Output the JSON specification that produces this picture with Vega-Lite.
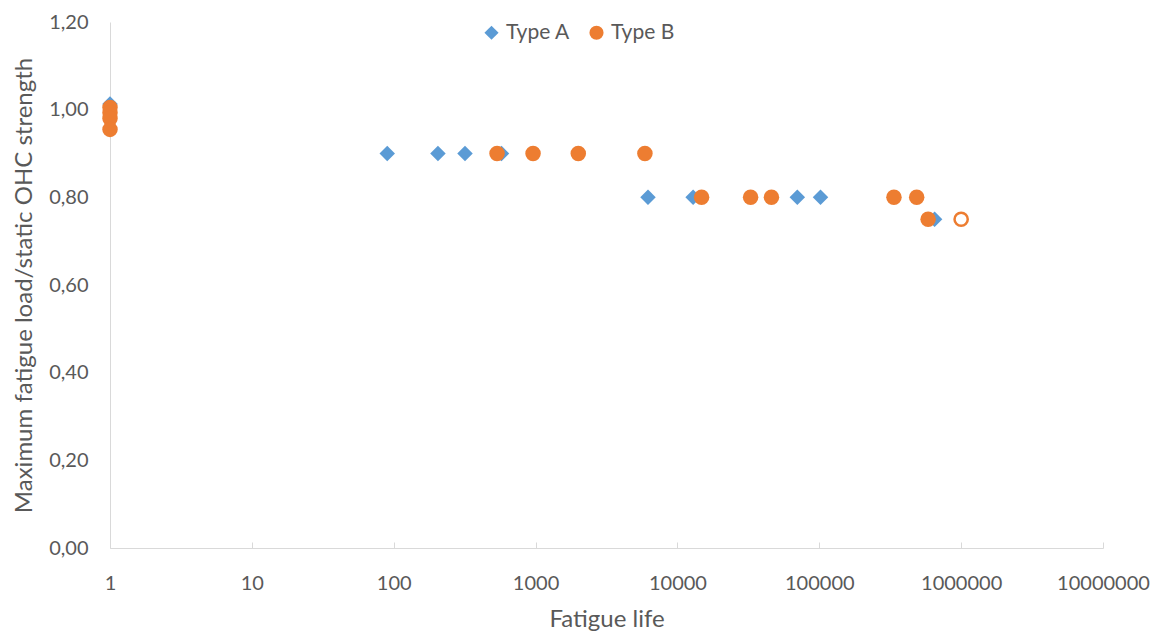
{
  "$schema": "https://vega.github.io/schema/vega-lite/v6.json",
  "width": 993,
  "height": 526,
  "autosize": "none",
  "padding": {"left": 110, "top": 22, "right": 56, "bottom": 87},
  "background": "white",
  "config": {
    "font": "Lato",
    "view": {"stroke": null},
    "axis": {"grid": false, "domainColor": "#d9d9d9", "labelColor": "#595959", "titleColor": "#595959", "labelFont": "Lato", "titleFont": "Lato", "labelFontSize": 20, "titleFontSize": 24, "titleFontWeight": "normal"}
  },
  "data": {
    "values": [
      {"life": 1, "ratio": 1.013, "type": "Type A", "runout": false},
      {"life": 90, "ratio": 0.9, "type": "Type A", "runout": false},
      {"life": 205, "ratio": 0.9, "type": "Type A", "runout": false},
      {"life": 318, "ratio": 0.9, "type": "Type A", "runout": false},
      {"life": 575, "ratio": 0.9, "type": "Type A", "runout": false},
      {"life": 6200, "ratio": 0.8, "type": "Type A", "runout": false},
      {"life": 12900, "ratio": 0.8, "type": "Type A", "runout": false},
      {"life": 70000, "ratio": 0.8, "type": "Type A", "runout": false},
      {"life": 102000, "ratio": 0.8, "type": "Type A", "runout": false},
      {"life": 650000, "ratio": 0.75, "type": "Type A", "runout": false},
      {"life": 1, "ratio": 1.005, "type": "Type B", "runout": false},
      {"life": 1, "ratio": 0.993, "type": "Type B", "runout": false},
      {"life": 1, "ratio": 0.98, "type": "Type B", "runout": false},
      {"life": 1, "ratio": 0.955, "type": "Type B", "runout": false},
      {"life": 535, "ratio": 0.9, "type": "Type B", "runout": false},
      {"life": 960, "ratio": 0.9, "type": "Type B", "runout": false},
      {"life": 2000, "ratio": 0.9, "type": "Type B", "runout": false},
      {"life": 5900, "ratio": 0.9, "type": "Type B", "runout": false},
      {"life": 14800, "ratio": 0.8, "type": "Type B", "runout": false},
      {"life": 32800, "ratio": 0.8, "type": "Type B", "runout": false},
      {"life": 46000, "ratio": 0.8, "type": "Type B", "runout": false},
      {"life": 336000, "ratio": 0.8, "type": "Type B", "runout": false},
      {"life": 486000, "ratio": 0.8, "type": "Type B", "runout": false},
      {"life": 585000, "ratio": 0.75, "type": "Type B", "runout": false},
      {"life": 1000000, "ratio": 0.75, "type": "Type B", "runout": true}
    ]
  },
  "encoding": {
    "x": {
      "field": "life", "type": "quantitative",
      "scale": {"type": "log", "domain": [1, 10000000], "nice": false},
      "axis": {"title": "Fatigue life", "values": [1, 10, 100, 1000, 10000, 100000, 1000000, 10000000], "format": "d", "tickSize": -6, "tickColor": "#d9d9d9", "labelPadding": 31, "labelFlush": false, "labelOverlap": false, "titlePadding": 14}
    },
    "y": {
      "field": "ratio", "type": "quantitative",
      "scale": {"domain": [0, 1.2], "nice": false},
      "axis": {"title": "Maximum fatigue load/static OHC strength", "values": [0, 0.2, 0.4, 0.6, 0.8, 1.0, 1.2], "labelExpr": "replace(format(datum.value, '.2f'), '.', ',')", "ticks": false, "labelPadding": 22, "labelFlush": false, "labelOverlap": false, "titlePadding": 12}
    },
    "color": {
      "field": "type", "type": "nominal",
      "scale": {"domain": ["Type A", "Type B"], "range": ["#5b9bd5", "#ed7d31"]},
      "legend": {"title": null, "orient": "none", "direction": "horizontal", "legendX": 371, "legendY": 0, "labelFontSize": 21, "labelColor": "#595959", "labelFont": "Lato", "symbolSize": 200, "columnPadding": 16, "labelOffset": 4, "symbolStrokeWidth": 0}
    },
    "shape": {
      "field": "type", "type": "nominal",
      "scale": {"domain": ["Type A", "Type B"], "range": ["diamond", "circle"]}
    }
  },
  "layer": [
    {
      "transform": [{"filter": "!datum.runout"}],
      "mark": {"type": "point", "filled": true, "opacity": 1, "size": 240}
    },
    {
      "transform": [{"filter": "datum.runout"}],
      "mark": {"type": "point", "filled": false, "opacity": 1, "strokeWidth": 2.5, "size": 175, "fill": "white", "fillOpacity": 1}
    }
  ]
}
